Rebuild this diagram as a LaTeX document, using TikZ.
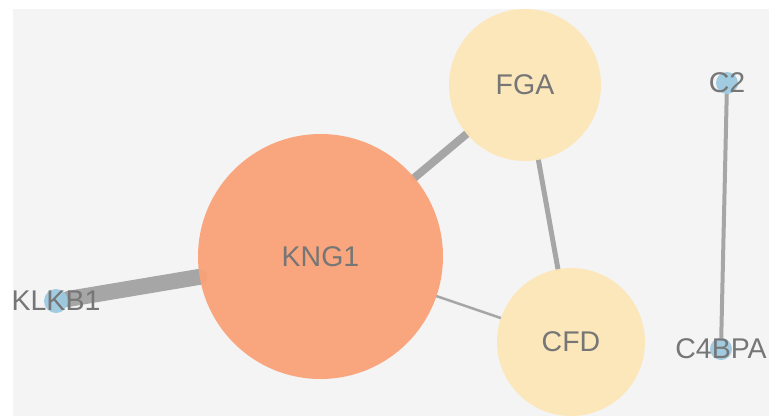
\documentclass[tikz,border=0pt]{standalone}
\usepackage{fontspec}
\setmainfont{Liberation Sans}
\definecolor{bgc}{HTML}{F4F4F4}
\definecolor{hub}{HTML}{FAA278}
\definecolor{mid}{HTML}{FDE7B7}
\definecolor{leaf}{HTML}{9CC9E1}
\definecolor{edgec}{HTML}{A6A6A6}
\definecolor{txt}{HTML}{767676}
\pgfdeclarelayer{bg}
\pgfdeclarelayer{edges}
\pgfsetlayers{bg,edges,main}
\begin{document}
\begin{tikzpicture}[x=1pt,y=-1pt,
  gene/.style={circle,draw=none,inner sep=0pt,fill opacity=0.95,minimum size=#1},
  lab/.style={text=txt,text opacity=1,fill opacity=1,inner sep=0pt,font=\fontsize{28.5}{28.5}\selectfont},
  link/.style={draw=edgec,line cap=round,line width=#1}]
\useasboundingbox (0,0) rectangle (769,416);
\begin{pgfonlayer}{bg}
\fill[bgc] (13,9) rectangle (769,416);
\end{pgfonlayer}
\node[gene=245pt,fill=hub,label={[lab]center:KNG1}] (kng1) at (320.5,256.5) {};
\node[gene=152pt,fill=mid,label={[lab]center:FGA}] (fga) at (525,85) {};
\node[gene=148pt,fill=mid,label={[lab]center:CFD}] (cfd) at (571,342) {};
\node[gene=24pt,fill=leaf,label={[lab]center:KLKB1}] (klkb1) at (56,301) {};
\node[gene=22pt,fill=leaf,label={[lab]center:C2}] (c2) at (727,83) {};
\node[gene=22pt,fill=leaf,label={[lab]center:C4BPA}] (c4bpa) at (721,349) {};
\begin{pgfonlayer}{edges}
\draw[link=16pt] (klkb1) -- (kng1);
\draw[link=8pt] (kng1) -- (fga);
\draw[link=5pt] (fga) -- (cfd);
\draw[link=2.5pt] (kng1) -- (cfd);
\draw[link=4pt] (c2) -- (c4bpa);
\end{pgfonlayer}
\end{tikzpicture}
\end{document}
